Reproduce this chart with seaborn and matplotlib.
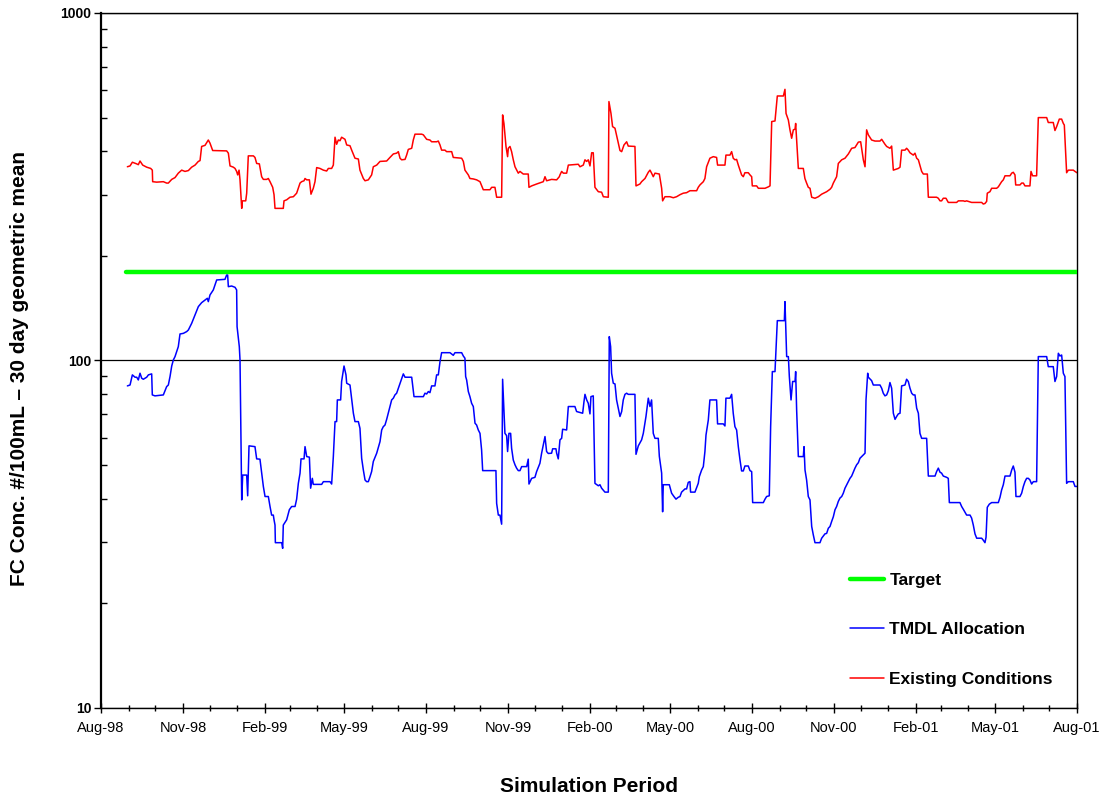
import numpy as np
import pandas as pd
import seaborn as sns
import matplotlib.pyplot as plt
import matplotlib.dates as mdates
import matplotlib.ticker as mticker

# days counted from 1-Aug-1998, values in FC #/100mL (30 day geometric mean)
start = pd.Timestamp('1998-08-01')
end = pd.Timestamp('2001-08-01')

target_day = [28, 1096]
target_val = [180, 180]

existing_day = [
    29.6, 32.6, 35.2, 40.0, 41.9, 43.8, 46.8, 51.3, 55.8, 57.6,
    58.0, 62.5, 70.0, 73.7, 75.6, 79.4, 83.1, 86.8, 90.6, 94.3,
    98.1, 101.8, 105.6, 109.3, 111.2, 113.0, 116.8, 120.5, 122.4, 125.4,
    141.1, 143.0, 144.9, 148.6, 150.5, 152.3, 153.5, 155.0, 156.1, 158.0,
    158.7, 162.5, 163.6, 165.4, 171.1, 172.9, 174.8, 177.8, 180.4, 182.3,
    186.0, 187.9, 189.8, 192.8, 194.3, 195.4, 204.7, 205.5, 208.5, 212.2,
    216.0, 219.7, 223.5, 225.3, 228.0, 229.1, 231.0, 234.0, 235.8, 238.4,
    240.3, 242.2, 245.9, 249.7, 253.4, 255.3, 259.0, 260.9, 262.8, 264.6,
    266.5, 268.4, 270.2, 274.0, 275.9, 279.6, 281.5, 285.2, 289.0, 290.8,
    294.6, 296.5, 300.2, 303.9, 305.8, 309.6, 313.3, 320.8, 324.5, 328.3,
    332.0, 333.9, 335.8, 337.6, 341.4, 343.2, 345.1, 348.9, 350.7, 352.6,
    360.1, 362.0, 365.7, 369.4, 371.3, 376.9, 378.8, 380.7, 382.5, 386.3,
    388.1, 393.8, 395.6, 405.0, 406.9, 408.7, 412.5, 414.3, 418.1, 421.8,
    425.6, 429.3, 436.8, 438.7, 442.4, 444.3, 449.9, 451.0, 452.5, 454.8,
    456.6, 457.4, 459.3, 461.1, 463.0, 464.9, 468.6, 470.5, 474.2, 479.8,
    480.6, 483.6, 489.2, 496.7, 498.6, 500.4, 506.0, 511.7, 514.7, 515.4,
    517.3, 519.2, 522.9, 524.8, 536.0, 537.9, 541.6, 543.5, 545.4, 547.2,
    549.1, 551.0, 552.8, 554.7, 558.5, 562.2, 564.1, 569.7, 570.4, 572.7,
    574.5, 577.2, 580.9, 582.8, 584.7, 587.3, 590.3, 592.1, 599.6, 600.8,
    605.2, 607.1, 610.9, 614.6, 616.5, 618.3, 620.2, 622.1, 627.0, 629.6,
    630.7, 633.3, 638.9, 642.7, 646.4, 650.2, 653.9, 657.6, 661.4, 668.9,
    670.7, 672.6, 676.4, 678.2, 680.1, 683.8, 687.6, 691.3, 692.4, 700.7,
    701.8, 706.3, 708.2, 710.0, 711.9, 713.8, 715.7, 719.4, 721.3, 723.1,
    726.9, 728.8, 730.7, 731.4, 736.3, 738.2, 745.7, 749.4, 751.3, 753.2,
    756.9, 759.5, 766.3, 768.1, 769.3, 771.9, 773.7, 775.6, 777.5, 779.4,
    780.1, 783.1, 788.7, 790.5, 792.4, 794.3, 796.2, 798.1, 801.8, 805.6,
    809.3, 814.9, 818.7, 820.5, 822.4, 826.1, 828.0, 831.8, 835.5, 839.3,
    843.0, 846.7, 850.5, 853.1, 856.1, 858.0, 859.8, 861.7, 865.4, 869.2,
    874.8, 876.7, 880.4, 882.3, 886.0, 887.9, 889.8, 895.4, 897.3, 899.1,
    902.9, 904.7, 906.6, 908.5, 912.2, 914.1, 916.0, 917.9, 921.6, 923.5,
    928.0, 929.1, 938.4, 940.3, 942.2, 944.0, 945.9, 948.9, 951.5, 960.9,
    962.8, 968.4, 970.2, 972.1, 977.7, 989.0, 990.8, 992.7, 994.6, 995.3,
    998.3, 1000.2, 1005.8, 1007.7, 1011.4, 1013.3, 1015.2, 1020.8, 1022.7, 1024.5,
    1026.4, 1027.2, 1032.0, 1033.9, 1035.8, 1037.6, 1043.2, 1044.4, 1046.2, 1050.7,
    1052.6, 1062.0, 1063.8, 1069.4, 1071.3, 1073.2, 1076.2, 1078.8, 1080.7, 1081.8,
    1084.4, 1086.3, 1091.9, 1093.8, 1096.0,
]
existing_val = [
    361, 363, 372, 368, 366, 375, 365, 360, 357, 353,
    327, 326, 327, 324, 324, 332, 336, 346, 353, 350,
    352, 360, 365, 374, 376, 413, 416, 431, 422, 402,
    401, 395, 363, 360, 357, 350, 342, 353, 331, 274,
    288, 288, 303, 388, 388, 384, 369, 368, 338, 332,
    332, 334, 327, 315, 300, 274, 274, 288, 290, 295,
    296, 303, 324, 327, 329, 334, 331, 331, 301, 313,
    327, 359, 357, 353, 351, 357, 357, 365, 439, 419,
    431, 429, 439, 433, 417, 415, 403, 382, 380, 353,
    334, 329, 331, 342, 361, 365, 374, 375, 384, 393,
    395, 399, 382, 378, 379, 390, 405, 408, 431, 448,
    448, 446, 433, 431, 426, 426, 428, 417, 403, 403,
    399, 399, 384, 382, 374, 353, 342, 334, 333, 331,
    327, 310, 310, 315, 315, 295, 295, 509, 481, 413,
    386, 408, 413, 399, 378, 361, 346, 350, 344, 344,
    315, 318, 322, 327, 338, 329, 332, 331, 338, 342,
    350, 346, 346, 365, 367, 361, 365, 378, 374, 378,
    363, 396, 396, 315, 306, 305, 296, 295, 556, 514,
    471, 466, 422, 402, 399, 417, 426, 414, 413, 318,
    322, 327, 334, 348, 353, 346, 338, 346, 344, 313,
    288, 296, 296, 294, 296, 300, 303, 304, 308, 308,
    315, 320, 327, 334, 361, 382, 386, 384, 365, 365,
    390, 390, 399, 382, 378, 379, 365, 342, 338, 347,
    347, 342, 338, 318, 318, 313, 313, 316, 318, 487,
    489, 577, 577, 603, 514, 492, 461, 436, 461, 463,
    481, 357, 357, 334, 324, 315, 313, 295, 293, 296,
    301, 306, 311, 315, 324, 338, 369, 378, 382, 393,
    408, 410, 425, 426, 378, 361, 461, 446, 431, 428,
    428, 433, 419, 413, 408, 414, 353, 357, 360, 403,
    403, 408, 403, 396, 390, 395, 382, 378, 350, 344,
    344, 295, 295, 293, 288, 288, 293, 293, 285, 285,
    288, 288, 287, 288, 285, 285, 282, 283, 287, 303,
    306, 313, 313, 316, 327, 331, 340, 340, 346, 348,
    342, 320, 320, 324, 324, 318, 318, 350, 340, 340,
    500, 500, 484, 484, 459, 471, 495, 495, 481, 476,
    347, 353, 353, 350, 347,
]

tmdl_day = [
    29.6, 32.6, 35.2, 38.2, 40.1, 41.9, 43.8, 45.7, 47.5, 51.3,
    53.2, 56.9, 57.6, 60.6, 70.0, 71.9, 73.7, 75.6, 77.5, 79.4,
    81.2, 83.1, 86.8, 88.7, 92.5, 96.2, 98.1, 101.8, 105.6, 109.3,
    113.0, 116.8, 119.4, 120.5, 122.4, 126.1, 129.9, 139.2, 141.1, 142.2,
    143.0, 146.7, 150.5, 152.3, 152.8, 155.3, 156.1, 158.0, 159.1, 163.6,
    164.7, 166.2, 172.9, 174.8, 178.5, 180.4, 182.3, 184.2, 187.9, 189.8,
    191.6, 193.5, 194.3, 195.4, 195.8, 202.9, 204.0, 204.7, 208.5, 211.5,
    214.1, 217.9, 219.7, 221.6, 223.5, 224.6, 228.0, 229.1, 231.0, 234.0,
    235.4, 237.3, 238.4, 247.8, 249.7, 257.2, 259.0, 260.9, 262.8, 264.6,
    265.4, 269.1, 270.2, 272.9, 275.1, 275.9, 279.6, 283.4, 285.2, 289.0,
    290.8, 292.7, 294.6, 296.5, 298.3, 300.2, 302.1, 303.9, 305.8, 309.6,
    313.3, 315.2, 317.0, 318.9, 320.8, 322.6, 324.5, 326.4, 328.3, 330.1,
    332.0, 333.9, 337.6, 339.5, 341.4, 348.9, 351.5, 362.0, 363.8, 365.7,
    367.6, 369.4, 371.3, 375.0, 376.9, 378.8, 380.7, 382.5, 391.9, 393.8,
    395.6, 397.5, 405.0, 406.9, 408.7, 409.5, 410.6, 412.5, 414.3, 416.2,
    418.1, 420.0, 421.8, 423.7, 425.6, 427.4, 428.6, 443.5, 444.3, 446.2,
    448.0, 449.9, 451.0, 453.6, 455.5, 456.6, 458.1, 460.0, 461.1, 463.0,
    464.9, 466.7, 468.6, 470.5, 472.4, 478.0, 479.8, 480.6, 483.6, 487.3,
    489.2, 492.9, 494.8, 498.6, 500.4, 502.3, 506.0, 507.2, 510.9, 511.7,
    513.5, 515.4, 517.3, 518.4, 522.9, 524.8, 532.2, 534.1, 540.9, 542.4,
    543.5, 545.4, 547.2, 549.1, 550.2, 552.8, 554.7, 558.5, 560.3, 562.2,
    565.9, 569.7, 570.8, 572.3, 573.4, 575.3, 577.2, 579.0, 580.9, 582.8,
    584.7, 586.5, 588.4, 590.3, 592.1, 599.6, 600.8, 603.4, 607.1, 609.0,
    612.0, 614.6, 616.5, 618.3, 620.2, 622.1, 625.8, 627.0, 629.6, 630.7,
    631.4, 638.2, 640.8, 643.4, 645.7, 648.3, 650.2, 652.0, 655.8, 657.6,
    659.5, 661.4, 662.1, 667.0, 670.7, 671.9, 674.5, 676.4, 678.2, 679.4,
    682.0, 683.8, 691.3, 692.4, 698.8, 700.7, 701.8, 706.3, 708.2, 710.0,
    711.9, 713.8, 715.7, 717.6, 719.4, 721.3, 723.1, 726.9, 728.8, 730.7,
    731.8, 743.8, 745.7, 747.5, 750.5, 752.0, 753.9, 756.9, 759.5, 767.4,
    768.1, 770.0, 771.9, 773.0, 774.9, 776.7, 779.4, 780.1, 781.2, 783.1,
    788.7, 789.5, 790.6, 792.4, 794.3, 796.2, 798.1, 799.9, 801.8, 807.4,
    809.3, 813.0, 814.9, 816.8, 818.7, 820.5, 822.4, 824.3, 826.1, 828.0,
    829.9, 831.8, 833.6, 835.5, 839.3, 841.1, 843.0, 846.7, 848.6, 850.5,
    852.3, 856.1, 858.0, 859.1, 861.0, 861.7, 865.4, 867.3, 874.8, 876.7,
    878.5, 880.4, 882.3, 884.2, 886.0, 887.9, 889.8, 891.7, 893.5, 895.4,
    897.3, 899.1, 902.9, 904.7, 906.6, 908.5, 910.4, 912.2, 914.1, 916.0,
    917.9, 919.7, 921.6, 927.2, 929.1, 936.6, 938.4, 940.3, 942.2, 944.0,
    945.9, 949.7, 951.5, 952.7, 964.6, 966.5, 968.4, 972.1, 975.9, 977.7,
    979.6, 981.5, 983.4, 989.0, 990.8, 992.7, 993.9, 995.3, 997.6, 1000.2,
    1007.7, 1009.6, 1011.4, 1013.3, 1015.2, 1020.8, 1022.7, 1024.5, 1026.4, 1027.5,
    1032.0, 1033.9, 1035.8, 1037.6, 1039.5, 1041.4, 1043.2, 1045.1, 1047.0, 1050.7,
    1052.6, 1062.0, 1063.8, 1069.4, 1071.3, 1073.2, 1075.1, 1076.9, 1078.8, 1080.7,
    1082.5, 1084.4, 1086.3, 1091.9, 1093.8, 1096.0,
]
tmdl_val = [
    84.5, 85.0, 90.9, 89.5, 89.5, 87.9, 91.9, 88.9, 88.3, 89.5,
    90.9, 91.5, 79.6, 79.1, 79.6, 81.9, 84.1, 85.0, 89.9, 96.4,
    100.3, 102.6, 109.6, 119.2, 119.7, 121.1, 122.4, 127.9, 135.2, 142.9,
    146.7, 149.3, 151.0, 147.7, 154.4, 159.6, 170.5, 171.2, 176.2, 176.2,
    163.1, 163.8, 162.4, 159.6, 125.1, 109.6, 100.3, 39.7, 46.8, 46.8,
    40.8, 56.8, 56.5, 52.1, 52.0, 47.4, 43.4, 40.6, 40.6, 38.0,
    35.9, 35.9, 34.8, 33.6, 29.9, 29.9, 28.8, 33.6, 34.8, 37.2,
    38.0, 38.0, 39.9, 44.3, 47.4, 52.1, 52.1, 56.5, 52.9, 52.7,
    42.9, 45.8, 44.0, 44.0, 44.8, 44.8, 44.1, 52.9, 66.7, 66.7,
    77.0, 77.0, 87.0, 96.4, 90.9, 86.0, 85.0, 70.5, 66.7, 66.7,
    63.8, 52.3, 48.4, 45.3, 44.8, 44.8, 46.3, 47.9, 51.2, 54.1,
    58.4, 63.1, 64.5, 65.2, 67.7, 70.5, 73.7, 77.0, 77.9, 79.6,
    80.5, 83.2, 88.9, 91.5, 89.5, 89.5, 78.7, 78.7, 80.5, 80.1,
    81.4, 80.8, 84.5, 84.5, 90.9, 90.9, 99.2, 105.3, 105.3, 104.4,
    103.5, 105.3, 105.3, 103.0, 101.5, 89.9, 87.9, 81.4, 78.7, 75.3,
    73.7, 66.0, 65.2, 63.1, 61.7, 55.3, 48.2, 48.2, 38.8, 35.9,
    35.9, 33.8, 88.3, 61.7, 60.8, 54.7, 61.7, 61.7, 55.9, 51.7,
    50.1, 49.0, 48.2, 48.2, 49.5, 49.5, 52.0, 44.1, 45.8, 46.1,
    47.9, 50.6, 54.1, 60.4, 54.7, 54.0, 54.1, 55.7, 55.7, 54.1,
    52.1, 59.1, 59.7, 63.4, 63.1, 73.7, 73.7, 71.3, 70.5, 76.2,
    79.9, 77.0, 75.3, 70.2, 78.7, 79.1, 44.3, 43.6, 43.9, 42.9,
    41.8, 41.8, 117.1, 109.6, 91.9, 86.0, 85.6, 77.0, 72.9, 69.0,
    71.3, 77.0, 79.9, 80.5, 79.9, 79.9, 53.7, 56.8, 59.1, 61.7,
    69.0, 77.9, 73.7, 77.0, 61.7, 59.7, 59.7, 53.0, 47.4, 36.7,
    43.9, 43.9, 41.5, 40.6, 39.9, 40.4, 40.6, 41.8, 42.7, 42.7,
    44.6, 44.8, 41.8, 41.8, 44.3, 46.3, 48.4, 49.5, 54.7, 61.0,
    67.4, 77.0, 77.0, 65.7, 65.7, 64.8, 77.9, 77.9, 79.9, 70.5,
    64.5, 63.1, 56.5, 51.7, 48.1, 48.1, 49.7, 49.7, 48.2, 47.9,
    39.0, 39.0, 39.9, 40.6, 40.8, 64.5, 92.9, 92.9, 130.2, 130.2,
    147.7, 102.6, 102.6, 89.9, 77.0, 87.0, 87.0, 92.9, 72.1, 52.9,
    52.9, 56.5, 48.4, 45.3, 40.6, 39.7, 33.3, 31.5, 29.9, 29.9,
    30.8, 31.7, 31.8, 32.9, 33.3, 34.4, 35.5, 37.2, 38.0, 39.3,
    40.2, 40.6, 41.5, 42.9, 44.8, 45.8, 46.5, 49.0, 50.1, 50.8,
    52.3, 53.5, 54.1, 77.0, 91.9, 89.5, 87.5, 85.0, 85.0, 83.2,
    80.5, 79.1, 79.6, 81.9, 86.4, 83.2, 70.5, 67.7, 69.0, 70.2,
    70.5, 84.5, 85.0, 88.3, 87.0, 83.2, 80.5, 79.6, 79.6, 72.9,
    70.5, 61.7, 59.7, 59.7, 46.5, 46.5, 47.9, 49.0, 47.7, 47.4,
    46.5, 46.1, 45.8, 39.0, 39.0, 38.0, 37.3, 35.9, 35.9, 35.2,
    33.6, 31.7, 30.8, 30.8, 30.4, 29.9, 31.0, 37.8, 38.6, 39.0,
    39.0, 40.4, 42.4, 43.9, 46.5, 46.5, 48.4, 49.7, 47.7, 40.6,
    40.6, 41.5, 43.4, 44.8, 45.8, 45.8, 45.3, 44.1, 44.8, 44.8,
    102.6, 102.6, 96.0, 96.0, 87.0, 89.9, 104.9, 103.0, 103.7, 91.9,
    89.9, 44.3, 44.8, 44.8, 43.4, 43.4,
]

assert len(existing_day) == len(existing_val)
assert len(tmdl_day) == len(tmdl_val)


def to_dates(days):
    return start + pd.to_timedelta(np.array(days), unit='D')


sns.set_style('white')
plt.rcParams['font.family'] = ['Liberation Sans', 'DejaVu Sans']
plt.rcParams['text.color'] = 'black'
plt.rcParams['axes.labelcolor'] = 'black'
plt.rcParams['xtick.color'] = 'black'
plt.rcParams['ytick.color'] = 'black'

fig = plt.figure(figsize=(11.04, 7.97), dpi=100)
ax = fig.add_axes([0.0915, 0.1117, 0.884, 0.872])

sns.lineplot(x=to_dates(existing_day), y=existing_val, color='#ff0000', lw=1.1,
             estimator=None, sort=False, ax=ax, zorder=2)
sns.lineplot(x=to_dates(tmdl_day), y=tmdl_val, color='#0000ff', lw=1.1,
             estimator=None, sort=False, ax=ax, zorder=2)
sns.lineplot(x=to_dates(target_day), y=target_val, color='#00ff00', lw=3.2,
             estimator=None, sort=False, ax=ax, zorder=3)

ax.set_yscale('log')
ax.set_ylim(10, 1000)
ax.set_xlim(start, end)

ax.yaxis.set_major_locator(mticker.LogLocator(base=10))
ax.yaxis.set_major_formatter(mticker.FuncFormatter(lambda v, p: f'{v:g}'))
ax.yaxis.set_minor_locator(mticker.LogLocator(base=10, subs=np.arange(2, 10)))
ax.yaxis.set_minor_formatter(mticker.NullFormatter())

ax.xaxis.set_major_locator(mdates.MonthLocator(bymonth=[2, 5, 8, 11]))
ax.xaxis.set_major_formatter(mdates.DateFormatter('%b-%y'))
ax.xaxis.set_minor_locator(mdates.MonthLocator())

ax.grid(True, axis='y', which='major', color='black', linewidth=0.9)
ax.grid(False, axis='x')

ax.tick_params(axis='both', which='both', bottom=True, left=True,
               color='black', labelcolor='black')
ax.tick_params(axis='y', which='major', direction='out', length=5, width=1, pad=2)
ax.tick_params(axis='y', which='minor', direction='in', length=4, width=1)
ax.tick_params(axis='x', which='major', direction='inout', length=7, width=1, pad=6)
ax.tick_params(axis='x', which='minor', direction='inout', length=5, width=1)

for lbl in ax.get_xticklabels():
    lbl.set_fontsize(10.5)
for lbl in ax.get_yticklabels():
    lbl.set_fontsize(10)
    lbl.set_fontweight('bold')

for s in ax.spines.values():
    s.set_color('black')
    s.set_linewidth(1.0)
ax.spines['left'].set_linewidth(1.6)

ax.set_xlabel('Simulation Period', fontsize=15, fontweight='bold', color='black')
ax.set_ylabel('FC Conc. #/100mL \u2013 30 day geometric mean', fontsize=15,
              fontweight='bold', color='black')
ax.xaxis.set_label_coords(0.5, -0.100)
ax.yaxis.set_label_coords(-0.074, 0.488)

lines = ax.get_lines()
handles = [lines[2], lines[1], lines[0]]
leg = ax.legend(handles, ['Target', 'TMDL Allocation', 'Existing Conditions'],
                loc='upper left', bbox_to_anchor=(0.767, 0.195), frameon=False,
                prop={'weight': 'bold', 'size': 12.5}, handlelength=2.0,
                handletextpad=0.3, labelspacing=1.99, borderpad=0, borderaxespad=0)
for t in leg.get_texts():
    t.set_color('black')

fig.savefig('out.png', dpi=100)
